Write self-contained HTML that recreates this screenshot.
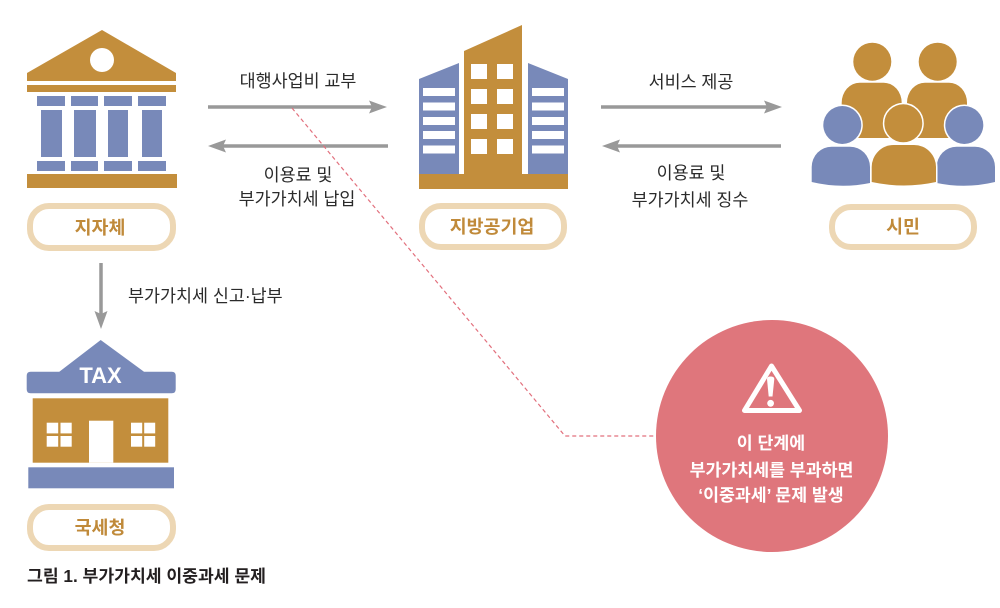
<!DOCTYPE html>
<html><head><meta charset="utf-8"><style>
html,body{margin:0;padding:0;background:#fff;}
svg{display:block;}
text{font-family:"Liberation Sans","Noto Sans CJK KR",sans-serif;}
.lbl{font-size:17.4px;fill:#2b2b2b;}
.pill{font-size:18.4px;font-weight:bold;fill:#c08a3a;}
.ct{font-size:17.3px;font-weight:bold;fill:#fff;}
</style></head><body>
<svg width="1000" height="608" viewBox="0 0 1000 608" xmlns="http://www.w3.org/2000/svg">
<!-- ===== Bank (지자체) ===== -->
<g fill="#c38e3c">
<polygon points="27,81 27,73 102,30 176,73 176,81"/>
<rect x="27" y="85" width="149" height="7"/>
<rect x="27" y="174" width="150" height="14"/>
</g>
<circle cx="102" cy="60" r="12" fill="#fff"/>
<g fill="#7889b9">
<rect x="37" y="96" width="28" height="10"/><rect x="71" y="96" width="27" height="10"/><rect x="104" y="96" width="28" height="10"/><rect x="138" y="96" width="28" height="10"/>
<rect x="41" y="110" width="21" height="47"/><rect x="74" y="110" width="22" height="47"/><rect x="108" y="110" width="20" height="47"/><rect x="142" y="110" width="20" height="47"/>
<rect x="37" y="161" width="28" height="10"/><rect x="71" y="161" width="27" height="10"/><rect x="104" y="161" width="28" height="10"/><rect x="138" y="161" width="28" height="10"/>
</g>
<!-- pill -->
<rect x="30" y="206" width="143" height="42" rx="19" fill="#fff" stroke="#edd7b4" stroke-width="6"/>
<text class="pill" x="100" y="234" text-anchor="middle">지자체</text>

<!-- ===== Arrows ===== -->
<g stroke="#999" stroke-width="3.5">
<line x1="208" y1="107" x2="374" y2="107"/>
<line x1="221" y1="146" x2="388" y2="146"/>
<line x1="601" y1="107" x2="768" y2="107"/>
<line x1="615" y1="146" x2="781" y2="146"/>
<line x1="101" y1="263" x2="101" y2="316"/>
</g>
<g fill="#999">
<polygon points="387,107 369,100.5 372,107 369,113.5"/>
<polygon points="208,146 226,139.5 223,146 226,152.5"/>
<polygon points="782,107 764,100.5 767,107 764,113.5"/>
<polygon points="602,146 620,139.5 617,146 620,152.5"/>
<polygon points="101,329 94.5,311 101,314 107.5,311"/>
</g>
<text class="lbl" x="298" y="87" text-anchor="middle">대행사업비 교부</text>
<text class="lbl" x="298" y="181" text-anchor="middle">이용료 및</text>
<text class="lbl" x="297" y="205" text-anchor="middle">부가가치세 납입</text>
<text class="lbl" x="691" y="88" text-anchor="middle">서비스 제공</text>
<text class="lbl" x="691" y="179" text-anchor="middle">이용료 및</text>
<text class="lbl" x="690" y="206" text-anchor="middle">부가가치세 징수</text>
<text class="lbl" x="128" y="302">부가가치세 신고·납부</text>

<!-- ===== Building (지방공기업) ===== -->
<g fill="#7889b9">
<polygon points="419,79 459,63 459,175 419,175"/>
<polygon points="528,63 568,79 568,175 528,175"/>
</g>
<polygon points="464,51 522,25 522,175 464,175" fill="#c38e3c"/>
<rect x="419" y="174" width="149" height="15" fill="#c38e3c"/>
<g fill="#fff">
<rect x="471" y="64" width="16" height="15"/><rect x="497" y="64" width="16" height="15"/>
<rect x="471" y="89" width="16" height="15"/><rect x="497" y="89" width="16" height="15"/>
<rect x="471" y="114" width="16" height="15"/><rect x="497" y="114" width="16" height="15"/>
<rect x="471" y="139" width="16" height="15"/><rect x="497" y="139" width="16" height="15"/>
<rect x="423" y="88" width="32" height="8"/><rect x="423" y="102.5" width="32" height="8"/><rect x="423" y="117" width="32" height="8"/><rect x="423" y="131" width="32" height="8"/><rect x="423" y="145.5" width="32" height="8"/>
<rect x="532" y="88" width="32" height="8"/><rect x="532" y="102.5" width="32" height="8"/><rect x="532" y="117" width="32" height="8"/><rect x="532" y="131" width="32" height="8"/><rect x="532" y="145.5" width="32" height="8"/>
</g>
<rect x="422" y="206" width="142" height="41" rx="19" fill="#fff" stroke="#edd7b4" stroke-width="6"/>
<text class="pill" x="492" y="233" text-anchor="middle">지방공기업</text>

<!-- ===== People (시민) ===== -->
<g fill="#c38e3c" stroke="#fff" stroke-width="3" paint-order="stroke">
<path d="M841.7,138 L841.7,103 A18,20 0 0 1 859.7,82.7 L883.7,82.7 A18,20 0 0 1 901.7,103 L901.7,138 Z"/>
<circle cx="872.3" cy="61.7" r="19"/>
<path d="M907,138 L907,103 A18,20 0 0 1 925,82.7 L949,82.7 A18,20 0 0 1 967,103 L967,138 Z"/>
<circle cx="937.7" cy="61.7" r="19"/>
</g>
<g fill="#7889b9" stroke="#fff" stroke-width="3" paint-order="stroke">
<path d="M811.7,182 L811.7,167 A20,20.3 0 0 1 831.7,146.7 L850,146.7 A20,20.3 0 0 1 870,167 L870,183 Q841,189 811.7,182 Z"/>
<circle cx="842.3" cy="125" r="19"/>
<path d="M936.7,183 L936.7,167 A20,20.3 0 0 1 956.7,146.7 L975,146.7 A20,20.3 0 0 1 995,167 L995,182 Q966,189 936.7,183 Z"/>
<circle cx="964.3" cy="125" r="19"/>
</g>
<g fill="#c38e3c" stroke="#fff" stroke-width="3" paint-order="stroke">
<path d="M871.7,182 L871.7,167 A22,22 0 0 1 893.7,145 L914,145 A22,22 0 0 1 936,167 L936,182 Q904,189 871.7,182 Z"/>
<circle cx="903.3" cy="123.3" r="19"/>
</g>
<rect x="832" y="207" width="142" height="40" rx="19" fill="#fff" stroke="#edd7b4" stroke-width="6"/>
<text class="pill" x="903" y="233" text-anchor="middle">시민</text>

<!-- ===== Tax office (국세청) ===== -->
<path d="M59.3,371.7 L100.7,340 L144,371.7 L171.7,371.7 Q175.7,371.7 175.7,375.7 L175.7,389.3 Q175.7,393.3 171.7,393.3 L30.7,393.3 Q26.7,393.3 26.7,389.3 L26.7,375.7 Q26.7,371.7 30.7,371.7 Z" fill="#7889b9"/>
<text x="100.5" y="383" text-anchor="middle" style="font-size:22px;font-weight:bold;fill:#fff;font-family:'Liberation Sans',sans-serif;">TAX</text>
<rect x="32.7" y="398.3" width="135.6" height="64.4" fill="#c38e3c"/>
<rect x="89" y="420.7" width="24.3" height="42" fill="#fff"/>
<g fill="#fff">
<rect x="46.7" y="422.7" width="11.5" height="10.7"/><rect x="60.5" y="422.7" width="11.2" height="10.7"/>
<rect x="46.7" y="436" width="11.5" height="10.7"/><rect x="60.5" y="436" width="11.2" height="10.7"/>
<rect x="131" y="422.7" width="11.2" height="10.7"/><rect x="144.2" y="422.7" width="11" height="10.7"/>
<rect x="131" y="436" width="11.2" height="10.7"/><rect x="144.2" y="436" width="11" height="10.7"/>
</g>
<rect x="28.3" y="467.3" width="145.7" height="21" fill="#7889b9"/>
<rect x="30" y="507" width="143" height="41" rx="19" fill="#fff" stroke="#edd7b4" stroke-width="6"/>
<text class="pill" x="100" y="534" text-anchor="middle">국세청</text>

<!-- ===== Dashed connector ===== -->
<polyline points="292,108 565,436 657,436" fill="none" stroke="#e2707d" stroke-width="1.2" stroke-dasharray="4 3"/>

<!-- ===== Warning circle ===== -->
<circle cx="772" cy="436" r="116" fill="#df767c"/>
<path d="M771.5,366 L799.5,410.5 L744.5,410.5 Z" fill="none" stroke="#fff" stroke-width="5" stroke-linejoin="round"/>
<path d="M767,379 Q767,376.5 770.5,376.5 Q774.3,376.5 774.3,379 L772.5,396.5 L768.7,396.5 Z" fill="#fff"/>
<circle cx="770.6" cy="403.3" r="3.4" fill="#fff"/>
<text class="ct" x="771" y="449" text-anchor="middle">이 단계에</text>
<text class="ct" x="771.5" y="476" text-anchor="middle">부가가치세를 부과하면</text>
<text class="ct" x="771" y="501" text-anchor="middle">‘이중과세’ 문제 발생</text>

<!-- ===== Caption ===== -->
<text x="27" y="582" style="font-size:17.2px;font-weight:bold;fill:#231f20;">그림 1. 부가가치세 이중과세 문제</text>
</svg>
</body></html>
